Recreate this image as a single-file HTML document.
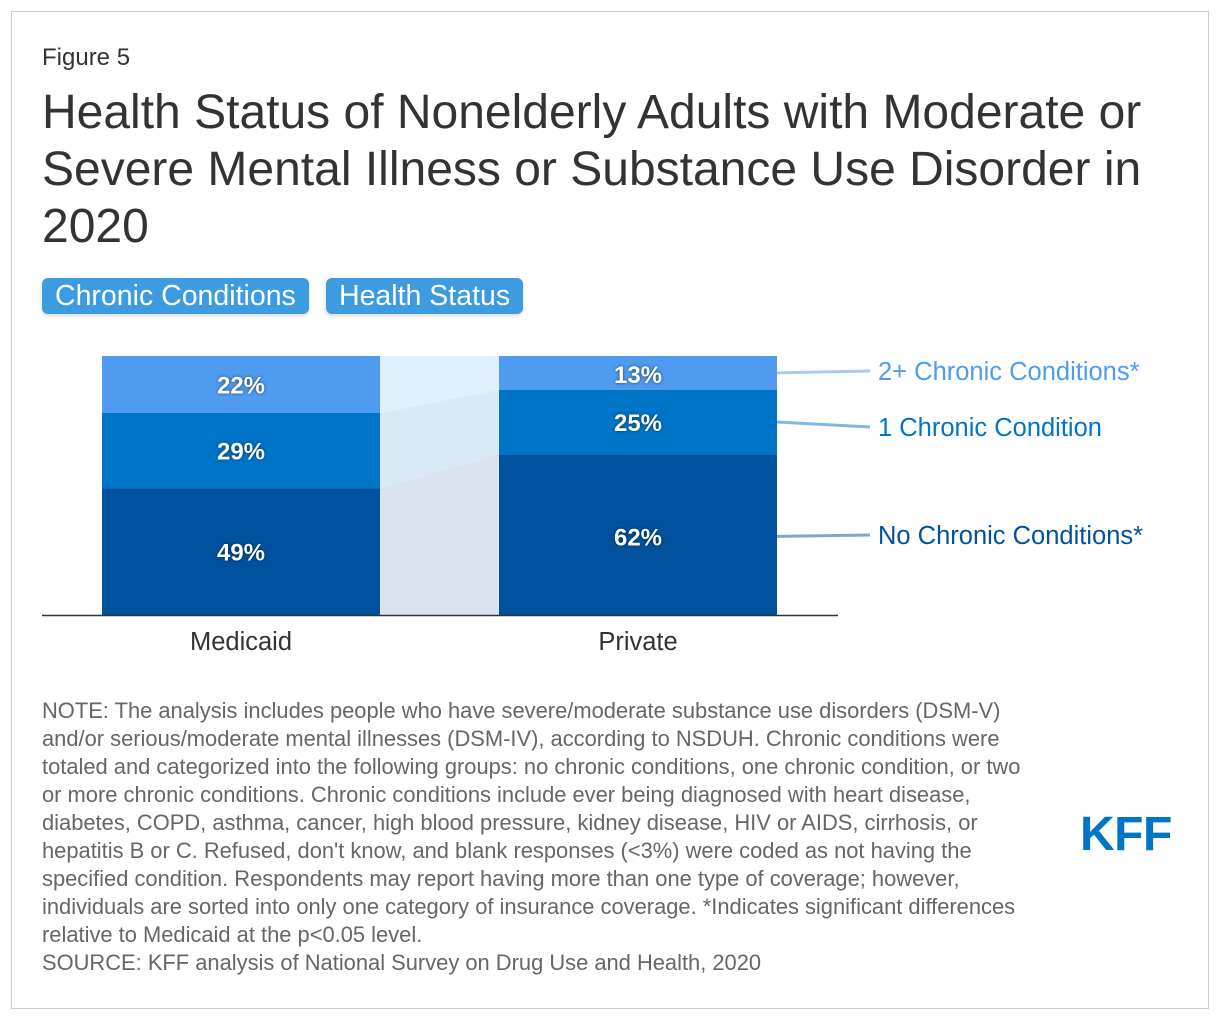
<!DOCTYPE html>
<html><head><meta charset="utf-8">
<style>
body{margin:0;background:#fff;font-family:"Liberation Sans",Arial,sans-serif;}
#card{position:absolute;left:11px;top:11px;width:1196px;height:996px;border:1px solid #ccc;}
.t{position:absolute;color:#333;}
.tab{position:absolute;top:278px;height:36px;background:#3d9be0;color:#fff;font-size:28.5px;line-height:37px;border-radius:6px;padding:0 13px;box-shadow:0 2px 4px rgba(0,0,0,0.15);}
</style></head><body>
<div id="card"></div>
<div class="t" style="left:42px;top:44px;font-size:24px;">Figure 5</div>
<div class="t" style="left:42px;top:84px;font-size:48px;line-height:57px;width:1140px;">Health Status of Nonelderly Adults with Moderate or Severe Mental Illness or Substance Use Disorder in 2020</div>
<div class="tab" style="left:42px;">Chronic Conditions</div>
<div class="tab" style="left:326px;">Health Status</div>
<svg id="chart" width="1220" height="680" style="position:absolute;left:0;top:340px"></svg>
<div class="t" style="left:42px;top:697px;font-size:21.9px;line-height:28px;color:#666;width:990px;">NOTE: The analysis includes people who have severe/moderate substance use disorders (DSM-V) and/or serious/moderate mental illnesses (DSM-IV), according to NSDUH. Chronic conditions were totaled and categorized into the following groups: no chronic conditions, one chronic condition, or two or more chronic conditions. Chronic conditions include ever being diagnosed with heart disease, diabetes, COPD, asthma, cancer, high blood pressure, kidney disease, HIV or AIDS, cirrhosis, or hepatitis B or C. Refused, don't know, and blank responses (&lt;3%) were coded as not having the specified condition. Respondents may report having more than one type of coverage; however, individuals are sorted into only one category of insurance coverage. *Indicates significant differences relative to Medicaid at the p&lt;0.05 level.<br>SOURCE: KFF analysis of National Survey on Drug Use and Health, 2020</div>
<div class="t" style="left:1080px;top:807px;font-size:48px;font-weight:bold;color:#0075c8;letter-spacing:-0.5px;">KFF</div>
<script>
const categories=["Medicaid","Private"];
const seriesNames=["No Chronic Conditions*","1 Chronic Condition","2+ Chronic Conditions*"];
const noChronic=[49,62];
const oneChronic=[29,25];
const twoPlus=[22,13];
const series=[noChronic,oneChronic,twoPlus];
const colors=["#00529f","#0075c8","#4f9bef"];
const connColors=["#d9e4ef","#d9eaf6","#e1f0fd"];
const legendY=[535,427,371];
const NS="http://www.w3.org/2000/svg";
const svg=document.getElementById('chart');
const off=340;
const y0=615-off,ph=259;
function y(v){return y0-v/100*ph;}
const bx=[102,499],bw=278;
function mk(tag,at){const e=document.createElementNS(NS,tag);for(const k in at)e.setAttribute(k,at[k]);svg.appendChild(e);return e;}
for(let s=0;s<3;s++){
  let b0=[0,0];for(let i=0;i<2;i++)for(let k=0;k<s;k++)b0[i]+=series[k][i];
  const t0=[b0[0]+series[s][0],b0[1]+series[s][1]];
  const x1=bx[0]+bw,x2=bx[1];
  const p=mk('polygon',{points:`${x1},${y(t0[0])} ${x2},${y(t0[1])} ${x2},${y(b0[1])} ${x1},${y(b0[0])}`,fill:connColors[s]});
  
  
}
for(let i=0;i<2;i++){
  let base=0;
  for(let s=0;s<3;s++){
    const v=series[s][i];
    const r=mk('rect',{x:bx[i],y:y(base+v),width:bw,height:y(base)-y(base+v),fill:colors[s]});
    
    
    const ly=(s==2&&i==1)?y(base+v)+18:(s==0&&i==1)?y(base+v)+82:(y(base)+y(base+v))/2;
    const tx=mk('text',{x:bx[i]+bw/2,y:ly+9,'text-anchor':'middle','font-size':'24','font-weight':'bold',fill:'#fff',style:'text-shadow:0 0 3px rgba(0,0,0,0.6)'});
    tx.textContent=v+'%';
    
    
    if(i==1){
      const my=(s==0)?ly:(y(base)+y(base+v))/2;
      const l=mk('line',{x1:bx[1]+bw,y1:my,x2:870,y2:legendY[s]-off,stroke:colors[s],'stroke-width':3,opacity:0.5});
      
      
      const lt=mk('text',{x:878,y:legendY[s]-off+9,'font-size':'25.5',fill:colors[s]});
      lt.textContent=seriesNames[s];
      
      
    }
    base+=v;
  }
  const c=mk('text',{x:bx[i]+bw/2,y:y0+35,'text-anchor':'middle','font-size':'25.5',fill:'#333'});
  c.textContent=categories[i];
  
  
}
const ax=mk('line',{x1:42,y1:y0+0.5,x2:838,y2:y0+0.5,stroke:'#333','stroke-width':1.5});


</script>
</body></html>
